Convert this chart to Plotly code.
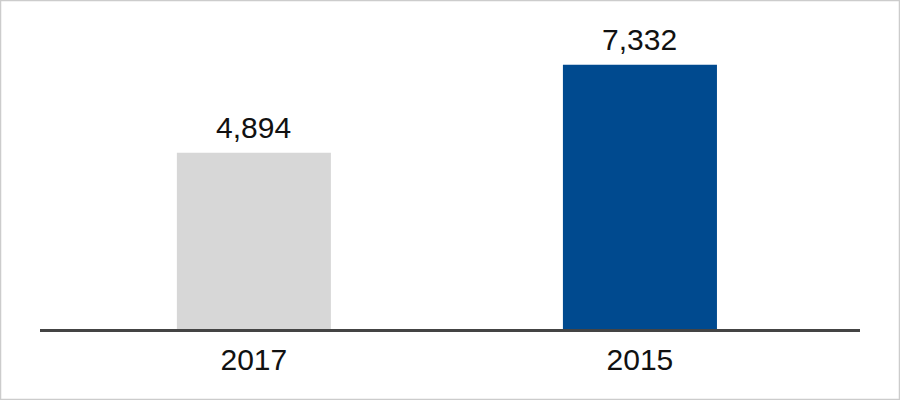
import plotly.graph_objects as go

categories = ["2017", "2015"]
values = [4894, 7332]
labels = ["4,894", "7,332"]
colors = ["#d7d7d7", "#004a8f"]

W, H = 900, 400
ML, MR, MT, MB = 40, 40, 30, 71
pw, ph = W - ML - MR, H - MT - MB
FONT = "Liberation Sans, Arial, sans-serif"

fig = go.Figure(
    go.Bar(
        x=categories,
        y=values,
        marker=dict(color=colors, line=dict(width=0)),
        width=0.399,
        cliponaxis=False,
        hoverinfo="skip",
    )
)

for i, (v, t) in enumerate(zip(values, labels)):
    fig.add_annotation(
        x=i, y=v, text=t, showarrow=False,
        xanchor="center", yanchor="bottom", yshift=7,
        font=dict(size=30, color="#111111", family=FONT),
    )

fig.update_layout(
    width=W,
    height=H,
    margin=dict(l=ML, r=MR, t=MT, b=MB, pad=0),
    paper_bgcolor="white",
    plot_bgcolor="white",
    showlegend=False,
    font=dict(family=FONT, color="#111111"),
    xaxis=dict(
        type="category",
        range=[-0.554, 1.570],
        showline=True,
        linecolor="#444444",
        linewidth=3,
        showgrid=False,
        zeroline=False,
        ticks="outside",
        ticklen=2,
        tickcolor="rgba(0,0,0,0)",
        tickfont=dict(size=30, color="#111111"),
    ),
    yaxis=dict(
        range=[0, 8300],
        visible=False,
        showgrid=False,
        zeroline=False,
    ),
    shapes=[
        dict(
            type="rect",
            xref="paper",
            yref="paper",
            x0=(0.5 - ML) / pw,
            x1=(W - 0.5 - ML) / pw,
            y0=(MT + ph - (H - 0.5)) / ph,
            y1=(MT + ph - 0.5) / ph,
            line=dict(color="#cccccc", width=1.5),
            fillcolor="rgba(0,0,0,0)",
            layer="above",
        )
    ],
)

fig.write_html(
    "out.html",
    config={"displayModeBar": False},
    post_script="document.body.style.margin='0px';document.body.style.padding='0px';",
)
